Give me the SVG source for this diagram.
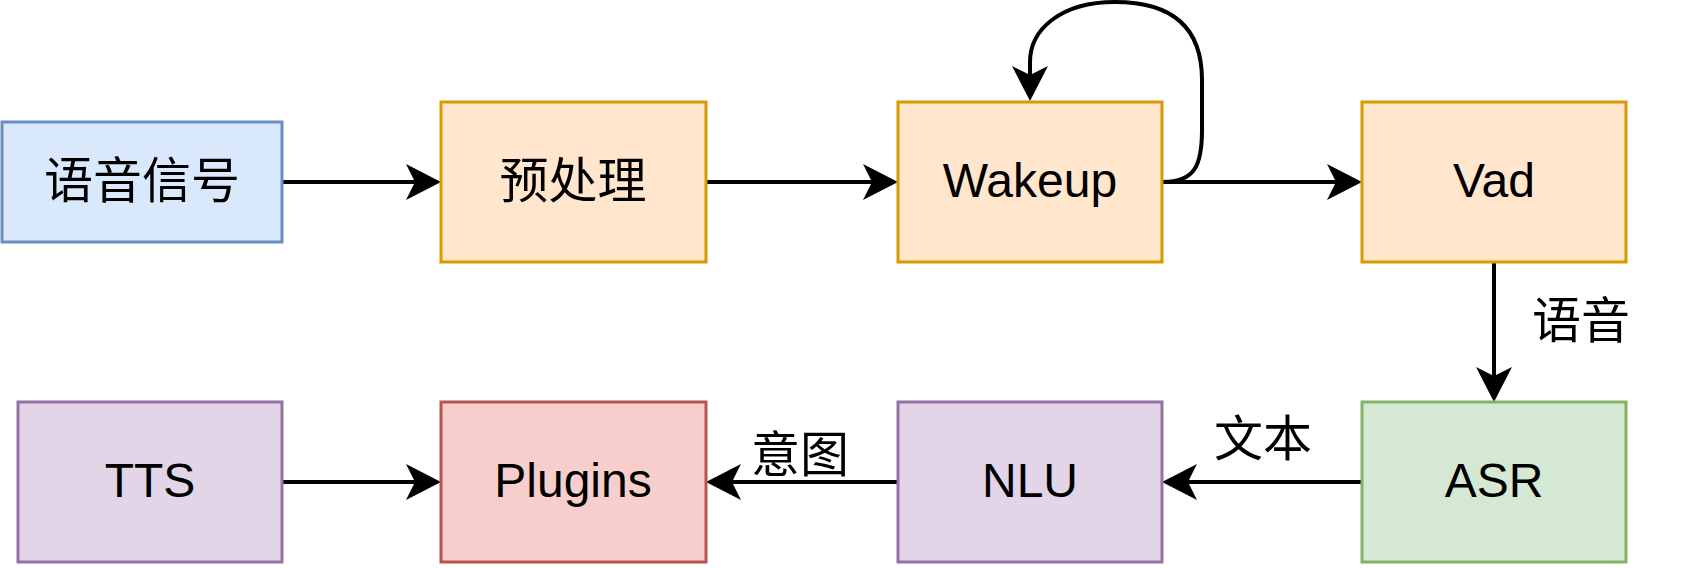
<svg xmlns="http://www.w3.org/2000/svg" width="1684" height="568" viewBox="0 0 1684 568">
<style>
.n{stroke-width:3}
.t{font-family:"Liberation Sans","Noto Sans CJK SC",sans-serif;font-size:48px;fill:#000;text-anchor:middle}
.c{font-size:49px}
.e{fill:none;stroke:#000;stroke-width:4}
.blue{fill:#dae8fc;stroke:#6c8ebf}
.orange{fill:#ffe6cc;stroke:#d79b00}
.green{fill:#d5e8d4;stroke:#82b366}
.purple{fill:#e1d5e7;stroke:#9673a6}
.red{fill:#f8cecc;stroke:#b85450}
</style>
<defs>
<marker id="arr" viewBox="-10 -19 38 38" markerWidth="38" markerHeight="38" refX="0" refY="0" orient="auto" markerUnits="userSpaceOnUse">
<path d="M26,0 L-9,-18 L0,0 L-9,18 Z" fill="#000"/>
</marker>
</defs>
<g id="connectors">
<path class="e" d="M282 182 L415 182" marker-end="url(#arr)"/>
<path class="e" d="M706 182 L872 182" marker-end="url(#arr)"/>
<path class="e" d="M1162 182 L1336 182" marker-end="url(#arr)"/>
<path class="e" d="M1163 182 C1195 182 1202 165 1202 130 L1202 80 C1202 25 1170 2 1115 2 C1060 2 1030 30 1030 62 L1030 75" marker-end="url(#arr)"/>
<path class="e" d="M1494 262 L1494 376" marker-end="url(#arr)"/>
<path class="e" d="M1362 482 L1188 482" marker-end="url(#arr)"/>
<path class="e" d="M898 482 L732 482" marker-end="url(#arr)"/>
<path class="e" d="M282 482 L415 482" marker-end="url(#arr)"/>
<text class="t c" x="1581" y="338">语音</text>
<text class="t c" x="1263" y="456">文本</text>
<text class="t c" x="800" y="472">意图</text>
</g>
<g id="signal"><rect class="n blue" x="2" y="122" width="280" height="120"/><text class="t c" x="142" y="198">语音信号</text></g>
<g id="preprocess"><rect class="n orange" x="441" y="102" width="265" height="160"/><text class="t c" x="573" y="198">预处理</text></g>
<g id="wakeup"><rect class="n orange" x="898" y="102" width="264" height="160"/><text class="t" x="1030" y="197">Wakeup</text></g>
<g id="vad"><rect class="n orange" x="1362" y="102" width="264" height="160"/><text class="t" x="1494" y="197">Vad</text></g>
<g id="asr"><rect class="n green" x="1362" y="402" width="264" height="160"/><text class="t" x="1494" y="497">ASR</text></g>
<g id="nlu"><rect class="n purple" x="898" y="402" width="264" height="160"/><text class="t" x="1030" y="497">NLU</text></g>
<g id="plugins"><rect class="n red" x="441" y="402" width="265" height="160"/><text class="t" x="573" y="497">Plugins</text></g>
<g id="tts"><rect class="n purple" x="18" y="402" width="264" height="160"/><text class="t" x="150" y="497">TTS</text></g>
</svg>
